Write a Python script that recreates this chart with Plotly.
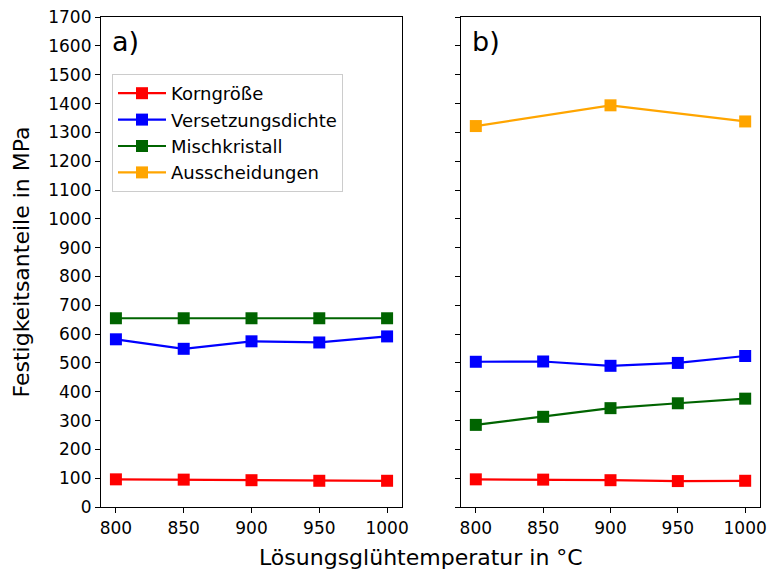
import plotly.graph_objects as go
from plotly.subplots import make_subplots

temps = [800, 850, 900, 950, 1000]
temps_aus = [800, 900, 1000]

a_korn = [96, 95, 93, 91, 91]
a_vers = [582, 549, 575, 571, 592]
a_misch = [655, 655, 655, 655, 655]

b_korn = [96, 95, 93, 90, 91]
b_vers = [504, 505, 490, 500, 524]
b_misch = [285, 313, 343, 360, 376]
b_aus = [1322, 1394, 1338]

names = ["Korngröße", "Versetzungsdichte", "Mischkristall", "Ausscheidungen"]
colors = ["red", "blue", "darkgreen", "orange"]

y_ticks = list(range(0, 1701, 100))
x_ticks = [800, 850, 900, 950, 1000]

FONT = "DejaVu Sans"

fig = make_subplots(rows=1, cols=2, shared_yaxes=False, horizontal_spacing=0.0)

def add(x, y, i, col, show):
    fig.add_trace(go.Scatter(
        x=x, y=y, mode="lines+markers", name=names[i],
        line=dict(color=colors[i], width=2.2),
        marker=dict(symbol="square", size=12, color=colors[i]),
        showlegend=show, legendgroup=names[i],
    ), row=1, col=col)

add(temps, a_korn, 0, 1, False)
add(temps, a_vers, 1, 1, False)
add(temps, a_misch, 2, 1, False)
add(temps, b_korn, 0, 2, True)
add(temps, b_vers, 1, 2, True)
add(temps, b_misch, 2, 2, True)
add(temps_aus, b_aus, 3, 2, True)

W, H = 771, 572
L, R, T, B = 101, 11, 17, 65
pw = W - L - R
ph = H - T - B
fig.update_layout(
    width=W, height=H,
    margin=dict(l=L, r=R, t=T, b=B),
    paper_bgcolor="white", plot_bgcolor="white",
    font=dict(family=FONT, size=17, color="black"),
    xaxis=dict(domain=[0, 301 / pw]),
    xaxis2=dict(domain=[(461 - 101) / pw, 1]),
    legend=dict(
        x=(112 - 101) / pw, y=(507 - 74) / ph, xanchor="left", yanchor="top",
        bordercolor="#cccccc", borderwidth=1, bgcolor="rgba(255,255,255,0.8)",
        font=dict(family=FONT, size=18), tracegroupgap=0,
        itemwidth=48,
    ),
)

axis_common = dict(
    showline=True, linecolor="black", linewidth=1.2, mirror=True,
    ticks="outside", ticklen=5, tickcolor="black", tickwidth=1.2,
    showgrid=False, zeroline=False,
    tickfont=dict(family=FONT, size=17),
    automargin=False, ticklabeloverflow="allow",
)
for c in (1, 2):
    fig.update_xaxes(range=[789, 1011], tickvals=x_ticks, row=1, col=c, **axis_common)
    fig.update_yaxes(range=[0, 1700.5], tickvals=y_ticks, row=1, col=c, **axis_common)
fig.update_yaxes(showticklabels=False, row=1, col=2)
fig.update_yaxes(title=dict(text="Festigkeitsanteile in MPa", font=dict(family=FONT, size=22), standoff=12), row=1, col=1)

fig.add_annotation(text="Lösungsglühtemperatur in °C", xref="paper", yref="paper",
                   x=(421 - 101) / pw, y=-(557 - 507) / ph, showarrow=False,
                   font=dict(family=FONT, size=22), yanchor="middle")
fig.add_annotation(text="a)", xref="x domain", yref="y domain", x=0.03, y=0.985,
                   xanchor="left", yanchor="top", showarrow=False, font=dict(family=FONT, size=27))
fig.add_annotation(text="b)", xref="x2 domain", yref="y2 domain", x=0.03, y=0.985,
                   xanchor="left", yanchor="top", showarrow=False, font=dict(family=FONT, size=27))

fig.write_html("out.html", config={"displayModeBar": False},
               post_script="document.body.style.margin='0';document.body.style.overflow='hidden';")
